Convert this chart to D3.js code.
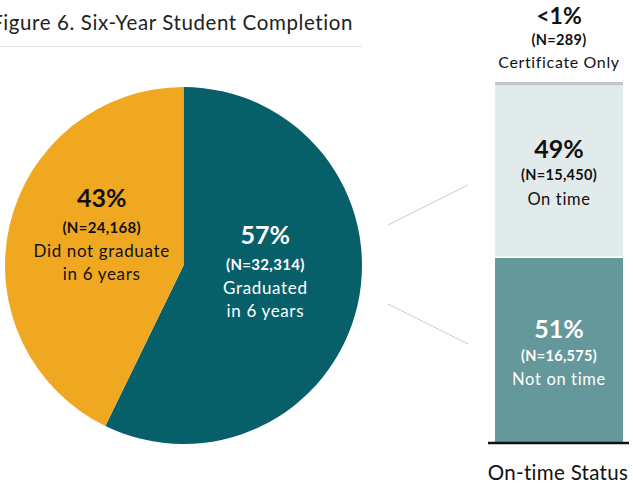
<!DOCTYPE html>
<html>
<head>
<meta charset="utf-8">
<script src="https://cdn.jsdelivr.net/npm/d3@7"></script>
<style>
  body { margin: 0; background: #fff; }
  svg { font-family: Lato, "Open Sans", sans-serif; }
</style>
</head>
<body>
<svg></svg>
<script>
// pie data
var pieNames = ["Graduated", "Did not graduate"]
var pieCounts = [32314, 24168]
var piePct = ["57%", "43%"]
var pieLabels = [["Graduated", "in 6 years"], ["Did not graduate", "in 6 years"]]

// stacked bar data (bottom to top)
var barNames = ["Not on time", "On time", "Certificate Only"]
var barCounts = [16575, 15450, 289]
var barPct = ["51%", "49%", "<1%"]

var width = 633
var height = 486

var svg = d3.select("svg")
    .attr("width", width)
    .attr("height", height)

// title
svg.append("text")
    .attr("x", 353)
    .attr("y", 30)
    .attr("text-anchor", "end")
    .style("font-size", "20.5px")
    .style("letter-spacing", "0.6px")
    .style("fill", "#222")
    .text("Figure 6. Six-Year Student Completion")

svg.append("line")
    .attr("x1", 0).attr("x2", 362)
    .attr("y1", 46.5).attr("y2", 46.5)
    .attr("stroke", "#e4e4e4")

// pie
var cx = 183.5, cy = 265.5, r = 178.5
var pieColors = ["#075f69", "#f0a821"]
var textColors = ["#fff", "#111"]

var pie = d3.pie().sort(null).value(d => d)
var arcs = pie(pieCounts)
var arc = d3.arc().innerRadius(0).outerRadius(r)
var labelArc = d3.arc().innerRadius(84).outerRadius(84)

var g = svg.append("g").attr("transform", "translate(" + cx + "," + cy + ")")

g.selectAll("path")
    .data(arcs)
    .enter()
    .append("path")
    .attr("d", arc)
    .attr("fill", (d, i) => pieColors[i])

arcs.forEach(function(d, i) {
    var c = labelArc.centroid(d)
    var t = g.append("text")
        .attr("text-anchor", "middle")
        .style("fill", textColors[i])
    t.append("tspan")
        .attr("x", c[0]).attr("y", c[1] - 40)
        .style("font-size", "25px").style("font-weight", "bold")
        .text(piePct[i])
    t.append("tspan")
        .attr("x", c[0]).attr("y", c[1] - 14)
        .style("font-size", "15px").style("font-weight", "bold")
        .style("letter-spacing", "0.3px")
        .text("(N=" + d3.format(",")(pieCounts[i]) + ")")
    pieLabels[i].forEach(function(line, j) {
        t.append("tspan")
            .attr("x", c[0]).attr("y", c[1] + 10 + j * 23)
            .style("font-size", "17px")
            .style("letter-spacing", "0.65px")
            .text(line)
    })
})

// connectors
svg.append("line")
    .attr("x1", 388).attr("y1", 225).attr("x2", 468).attr("y2", 185)
    .attr("stroke", "#d4d4d4").attr("stroke-width", 1.2)
svg.append("line")
    .attr("x1", 388).attr("y1", 304).attr("x2", 468).attr("y2", 344)
    .attr("stroke", "#d4d4d4").attr("stroke-width", 1.2)

// stacked bar
var barX = 495, barW = 128
var yScale = d3.scaleLinear()
    .domain([0, d3.sum(barCounts)])
    .range([442, 82])

var stacked = []
var acc = 0
barCounts.forEach(function(v, i) {
    stacked.push({ y0: acc, y1: acc + v, i: i })
    acc += v
})

var barColors = ["#64989b", "#e2ebeb", "#bfc7c7"]

svg.selectAll("rect.seg")
    .data(stacked)
    .enter()
    .append("rect")
    .attr("class", "seg")
    .attr("x", barX)
    .attr("width", barW)
    .attr("y", d => yScale(d.y1))
    .attr("height", d => yScale(d.y0) - yScale(d.y1))
    .attr("fill", d => barColors[d.i])

// separator between segments
svg.append("line")
    .attr("x1", barX).attr("x2", barX + barW)
    .attr("y1", yScale(barCounts[0])).attr("y2", yScale(barCounts[0]))
    .attr("stroke", "#fff").attr("stroke-width", 1.5)

// baseline
svg.append("line")
    .attr("x1", 488).attr("x2", 629)
    .attr("y1", 443).attr("y2", 443)
    .attr("stroke", "#111").attr("stroke-width", 2.5)

var bx = barX + barW / 2

function barLabel(y, pct, n, name, color, sizes) {
    var t = svg.append("text").attr("text-anchor", "middle").style("fill", color)
    t.append("tspan").attr("x", bx).attr("y", y)
        .style("font-size", sizes[0]).style("font-weight", "bold").text(pct)
    t.append("tspan").attr("x", bx).attr("y", y + sizes[3])
        .style("font-size", "14.5px").style("font-weight", "bold")
        .style("letter-spacing", "0.3px")
        .text("(N=" + d3.format(",")(n) + ")")
    t.append("tspan").attr("x", bx).attr("y", y + sizes[3] + sizes[4])
        .style("font-size", sizes[1]).style("letter-spacing", "0.65px").text(name)
}

// bottom segment label
var midNot = (yScale(stacked[0].y0) + yScale(stacked[0].y1)) / 2
barLabel(midNot - 12, barPct[0], barCounts[0], barNames[0], "#fff", ["25px", "16.5px", 0, 23, 24])
var midOn = (yScale(stacked[1].y0) + yScale(stacked[1].y1)) / 2
barLabel(midOn - 13, barPct[1], barCounts[1], barNames[1], "#111", ["25px", "16.5px", 0, 22, 25])
// top label above the bar
barLabel(24, barPct[2], barCounts[2], barNames[2], "#111", ["23px", "16px", 0, 21, 23])

svg.append("text")
    .attr("x", 558).attr("y", 480)
    .attr("text-anchor", "middle")
    .style("font-size", "20.5px")
    .style("letter-spacing", "0.3px")
    .style("fill", "#111")
    .text("On-time Status")
</script>
</body>
</html>
